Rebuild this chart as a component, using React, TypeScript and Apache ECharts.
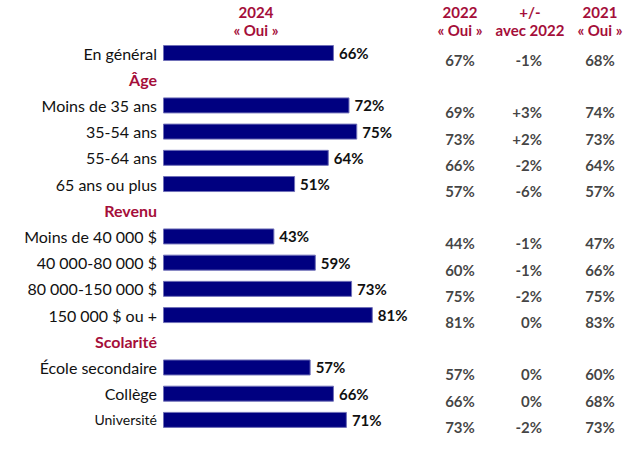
import React, { useEffect, useRef } from "react";
import * as echarts from "echarts";

const rows = [
  "En général",
  "Âge",
  "Moins de 35 ans",
  "35-54 ans",
  "55-64 ans",
  "65 ans ou plus",
  "Revenu",
  "Moins de 40 000 $",
  "40 000-80 000 $",
  "80 000-150 000 $",
  "150 000 $ ou +",
  "Scolarité",
  "École secondaire",
  "Collège",
  "Université",
];
const headerRows = ["Âge", "Revenu", "Scolarité"];
const smallRows = ["Université"];

const oui2024: (number | null)[] = [66, null, 72, 75, 64, 51, null, 43, 59, 73, 81, null, 57, 66, 71];
const oui2022: (number | null)[] = [67, null, 69, 73, 66, 57, null, 44, 60, 75, 81, null, 57, 66, 73];
const diff2022: (number | null)[] = [-1, null, 3, 2, -2, -6, null, -1, -1, -2, 0, null, 0, 0, -2];
const oui2021: (number | null)[] = [68, null, 74, 73, 64, 57, null, 47, 66, 75, 83, null, 60, 68, 73];

const mainHeader = "2024\n« Oui »";
const columnHeaders = ["2022\n« Oui »", "+/-\navec 2022", "2021\n« Oui »"];

const RED = "#A50E3A";
const NAVY = "#000080";
const FONT = "Lato";

export default function App() {
  const ref = useRef<HTMLDivElement>(null);
  useEffect(() => {
    document.body.style.margin = "0";
    if (!ref.current) return;
    const chart = echarts.init(ref.current, undefined, { renderer: "svg" });

    const fmtDiff = (v: number) => (v > 0 ? "+" + v + "%" : v + "%");
    const colData: any[] = [];
    [oui2022, diff2022, oui2021].forEach((arr, c) => {
      arr.forEach((v, r) => {
        if (v === null) return;
        colData.push({
          value: [c, r],
          label:
            c === 1
              ? { formatter: fmtDiff(v), align: "right", offset: [12, 7] }
              : { formatter: v + "%" },
        });
      });
    });

    const top = 39.9;
    const bottom = 35;

    chart.setOption({
      animation: false,
      grid: [
        { left: 163, right: 202, top, bottom },
        { left: 460, right: 24, top, bottom },
      ],
      graphic: [
        {
          type: "text",
          x: 256,
          y: 3,
          style: {
            text: mainHeader,
            fill: RED,
            font: `bold 15px ${FONT}`,
            lineHeight: 18,
            align: "center",
          },
        },
        ...columnHeaders.map((t, i) => ({
          type: "text",
          x: 460 + i * 70,
          y: 3,
          style: {
            text: t,
            fill: RED,
            font: `bold 15px ${FONT}`,
            lineHeight: 18,
            align: "center",
          },
        })),
      ],
      xAxis: [
        { type: "value", gridIndex: 0, min: 0, max: 100, show: false },
        { type: "value", gridIndex: 1, min: 0, max: 2, interval: 1, show: false },
      ],
      yAxis: [
        {
          type: "category",
          gridIndex: 0,
          data: rows,
          inverse: true,
          axisLine: { show: false },
          axisTick: { show: false },
          axisLabel: {
            margin: 6,
            color: "#111",
            fontFamily: FONT,
            fontSize: 16,
            formatter: (v: string) =>
              headerRows.includes(v) ? `{h|${v}}` : smallRows.includes(v) ? `{s|${v}}` : v,
            rich: {
              h: { color: RED, fontWeight: "bold", fontSize: 16, fontFamily: FONT },
              s: { color: "#111", fontSize: 14, fontFamily: FONT },
            },
          },
        },
        {
          type: "category",
          gridIndex: 1,
          data: rows,
          inverse: true,
          show: false,
        },
      ],
      series: [
        {
          type: "bar",
          xAxisIndex: 0,
          yAxisIndex: 0,
          data: oui2024,
          barWidth: 16,
          itemStyle: { color: NAVY, borderColor: "#7070B8", borderWidth: 1 },
          label: {
            show: true,
            position: "right",
            distance: 5,
            formatter: (p: any) => p.value + "%",
            color: "#111",
            fontWeight: "bold",
            fontSize: 15,
            fontFamily: FONT,
          },
        },
        {
          type: "scatter",
          xAxisIndex: 1,
          yAxisIndex: 1,
          data: colData,
          symbolSize: 1,
          itemStyle: { color: "rgba(0,0,0,0)" },
          label: {
            show: true,
            position: "inside",
            offset: [0, 7],
            color: "#111",
            fontWeight: "bold",
            fontSize: 15,
            fontFamily: FONT,
          },
        },
      ],
    });
    return () => chart.dispose();
  }, []);
  return <div ref={ref} style={{ width: 624, height: 468 }} />;
}
